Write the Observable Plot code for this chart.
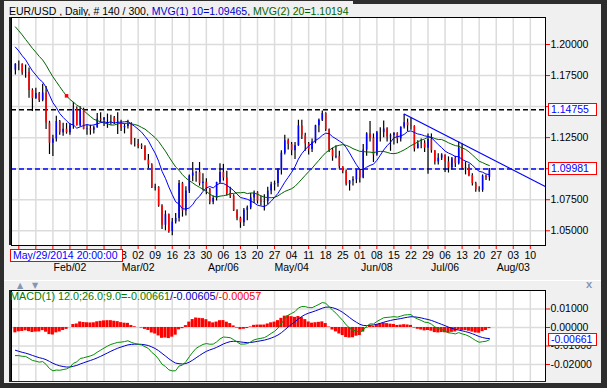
<!DOCTYPE html>
<html><head><meta charset="utf-8">
<script src="https://cdn.jsdelivr.net/npm/d3@7"></script>
<script src="https://cdn.jsdelivr.net/npm/@observablehq/plot@0.6"></script>
<style>
html,body{margin:0;padding:0;}
body{width:607px;height:388px;background:#f0f0f0;position:relative;overflow:hidden;font-family:"Liberation Sans",Arial,sans-serif;font-size:10.5px;}
.a{position:absolute;}
.box{position:absolute;background:#fff;border:1px solid #f00;color:#0000ff;box-sizing:border-box;line-height:11px;white-space:nowrap;padding-left:2px;}
.tri{position:absolute;color:#8795b5;font-family:"DejaVu Sans";font-size:8px;line-height:8px;}
</style></head><body>
<div id="main" class="a" style="left:0;top:0"></div>
<div id="macd" class="a" style="left:0;top:280px"></div>
<div id="over"></div>
<script>
// ---- data (EUR/USD daily, first bar 2015-01-09) ----
const firstDay = "2015-01-09";
const open = [1.1793,1.1840,1.1838,1.1772,1.1775,1.1630,1.1564,1.1606,1.1550,1.1610,1.1367,1.1205,1.1240,1.1380,1.1290,1.1318,1.1290,1.1345,1.1480,1.1345,1.1475,1.1315,1.1320,1.1310,1.1330,1.1400,1.1390,1.1410,1.1410,1.1410,1.1375,1.1380,1.1330,1.1340,1.1360,1.1195,1.1195,1.1185,1.1175,1.1070,1.1030,1.0845,1.0850,1.0700,1.0545,1.0630,1.0495,1.0570,1.0600,1.0880,1.0660,1.0820,1.0940,1.0965,1.0970,1.0880,1.0890,1.0835,1.0730,1.0760,1.0890,1.0970,1.0925,1.0800,1.0780,1.0660,1.0600,1.0565,1.0665,1.0685,1.0765,1.0805,1.0740,1.0730,1.0735,1.0820,1.0870,1.0880,1.0985,1.1125,1.1225,1.1195,1.1145,1.1185,1.1345,1.1265,1.1200,1.1155,1.1215,1.1345,1.1390,1.1445,1.1315,1.1150,1.1095,1.1100,1.1015,1.0980,1.0875,1.0900,1.0910,1.0985,1.0925,1.1150,1.1280,1.1245,1.1110,1.1290,1.1290,1.1320,1.1255,1.1265,1.1285,1.1240,1.1335,1.1370,1.1345,1.1340,1.1160,1.1200,1.1205,1.1165,1.1235,1.1145,1.1055,1.1085,1.1110,1.1055,1.1005,1.1080,1.1040,1.1165,1.1005,1.1010,1.0945,1.0880,1.0830,1.0825,1.0940,1.0930];
const high = [1.1845,1.1867,1.1846,1.1835,1.1810,1.1643,1.1647,1.1614,1.1679,1.1662,1.1382,1.1270,1.1423,1.1388,1.1366,1.1365,1.1364,1.1534,1.1497,1.1498,1.1487,1.1348,1.1350,1.1344,1.1444,1.1450,1.1410,1.1440,1.1430,1.1420,1.1450,1.1390,1.1360,1.1390,1.1370,1.1243,1.1235,1.1200,1.1185,1.1114,1.1040,1.0875,1.0855,1.0710,1.0660,1.0635,1.0600,1.0640,1.0905,1.0890,1.0855,1.0950,1.1050,1.0980,1.1050,1.0960,1.0920,1.0840,1.0780,1.0890,1.1040,1.1035,1.0980,1.0850,1.0790,1.0670,1.0610,1.0680,1.0700,1.0800,1.0820,1.0815,1.0780,1.0790,1.0850,1.0890,1.0900,1.1000,1.1145,1.1270,1.1240,1.1210,1.1210,1.1390,1.1390,1.1285,1.1210,1.1240,1.1350,1.1400,1.1465,1.1450,1.1320,1.1165,1.1185,1.1140,1.1015,1.0990,1.0905,1.0935,1.0990,1.0990,1.1195,1.1290,1.1380,1.1280,1.1300,1.1330,1.1385,1.1330,1.1280,1.1290,1.1290,1.1335,1.1436,1.1400,1.1410,1.1345,1.1225,1.1240,1.1225,1.1280,1.1280,1.1145,1.1120,1.1120,1.1110,1.1095,1.1090,1.1100,1.1215,1.1200,1.1055,1.1035,1.0960,1.0890,1.0855,1.0950,1.0950,1.1000];
const low = [1.1754,1.1789,1.1753,1.1728,1.1567,1.1460,1.1559,1.1532,1.1540,1.1316,1.1114,1.1098,1.1215,1.1270,1.1262,1.1278,1.1269,1.1318,1.1344,1.1336,1.1313,1.1270,1.1270,1.1280,1.1325,1.1370,1.1340,1.1325,1.1350,1.1355,1.1275,1.1300,1.1280,1.1320,1.1190,1.1175,1.1160,1.1155,1.1063,1.1000,1.0840,1.0820,1.0690,1.0510,1.0500,1.0480,1.0460,1.0555,1.0570,1.0610,1.0620,1.0800,1.0895,1.0890,1.0860,1.0820,1.0790,1.0710,1.0710,1.0740,1.0880,1.0900,1.0780,1.0760,1.0655,1.0580,1.0520,1.0535,1.0580,1.0670,1.0720,1.0715,1.0700,1.0660,1.0710,1.0790,1.0820,1.0850,1.0950,1.1110,1.1150,1.1105,1.1075,1.1180,1.1235,1.1140,1.1110,1.1130,1.1200,1.1290,1.1380,1.1300,1.1130,1.1060,1.1080,1.1000,1.0960,1.0860,1.0820,1.0860,1.0880,1.0885,1.0920,1.1100,1.1215,1.1050,1.1100,1.1215,1.1250,1.1215,1.1140,1.1190,1.1200,1.1215,1.1320,1.1300,1.1310,1.1135,1.1160,1.1160,1.1130,1.0955,1.1125,1.1030,1.1030,1.1065,1.0970,1.0965,1.0990,1.1010,1.1030,1.0990,1.0950,1.0935,1.0860,1.0810,1.0810,1.0810,1.0905,1.0900];
const close = [1.1841,1.1838,1.1772,1.1775,1.1630,1.1564,1.1606,1.1550,1.1610,1.1367,1.1205,1.1240,1.1380,1.1290,1.1318,1.1290,1.1345,1.1480,1.1345,1.1475,1.1315,1.1320,1.1310,1.1330,1.1400,1.1390,1.1410,1.1410,1.1410,1.1375,1.1380,1.1330,1.1340,1.1360,1.1195,1.1195,1.1185,1.1175,1.1070,1.1030,1.0845,1.0850,1.0700,1.0545,1.0630,1.0495,1.0570,1.0600,1.0880,1.0660,1.0820,1.0940,1.0965,1.0970,1.0880,1.0890,1.0835,1.0730,1.0760,1.0890,1.0970,1.0925,1.0800,1.0780,1.0660,1.0600,1.0565,1.0665,1.0685,1.0765,1.0805,1.0740,1.0730,1.0735,1.0820,1.0870,1.0880,1.0985,1.1125,1.1225,1.1195,1.1145,1.1185,1.1345,1.1265,1.1200,1.1155,1.1215,1.1345,1.1390,1.1445,1.1315,1.1150,1.1095,1.1100,1.1015,1.0980,1.0875,1.0900,1.0910,1.0985,1.0925,1.1150,1.1280,1.1245,1.1110,1.1290,1.1290,1.1320,1.1255,1.1265,1.1285,1.1240,1.1335,1.1370,1.1345,1.1340,1.1160,1.1200,1.1205,1.1165,1.1235,1.1145,1.1055,1.1085,1.1110,1.1055,1.1005,1.1080,1.1040,1.1165,1.1005,1.1010,1.0945,1.0880,1.0830,1.0825,1.0940,1.0930,1.0998];
// closes of the 19 sessions before the first shown bar (for the moving averages)
const preCloses = [1.2465,1.2440,1.2505,1.2335,1.2290,1.2230,1.2225,1.2180,1.2195,1.2180,1.2150,1.2155,1.2100,1.2090,1.2000,1.1935,1.1890,1.1840,1.1790];
// MACD(12,26,9) state at the session before the first shown bar
const macdSeed = {ema12: 1.2005, ema26: 1.2155, signal: -0.01158};

const weekTicks = ["2015-01-12","2015-01-19","2015-01-26","2015-02-02","2015-02-09","2015-02-16","2015-02-23","2015-03-02","2015-03-09","2015-03-16","2015-03-23","2015-03-30","2015-04-06","2015-04-13","2015-04-20","2015-04-27","2015-05-04","2015-05-11","2015-05-18","2015-05-25","2015-06-01","2015-06-08","2015-06-15","2015-06-22","2015-06-29","2015-07-06","2015-07-13","2015-07-20","2015-07-27","2015-08-03","2015-08-10"];
// day labels up to this date sit behind the cursor-date box and are not visible
const hiddenUntil = "2015-02-16";
const monthTicks = ["2015-02-02","2015-03-02","2015-04-06","2015-05-04","2015-06-08","2015-07-06","2015-08-03"];
const monthLabels = ["Feb/02","Mar/02","Apr/06","May/04","Jun/08","Jul/06","Aug/03"];
const priceLevels = [1.05,1.075,1.10,1.125,1.15,1.175,1.20];
const hiddenPriceLabels = [1.15]; // covered by the 1.14755 value box
const macdLevels = [0.01,0,-0.01,-0.02];
const blackLevel = 1.14755, blueLevel = 1.09981;
const trendDates = ["2015-06-18","2015-08-17"], trendValues = [1.1440,1.0848];
const markerDate = "2015-01-30";
const titleParts = [["EUR/USD , Daily, # 140 / 300, ","#000"],["MVG(1) 10=1.09465","#0000cc"],[", ","#000"],["MVG(2) 20=1.10194","#006400"]];
const macdParts = [["MACD(1) 12.0;26.0;9.0=-0.00661","#008000"],["/-0.00605","#0000cc"],["/-0.00057","#ff0000"]];
const macdLast = -0.00661;
const cursorLabel = "May/29/2014 20:00:00";

// ---- helpers ----
function idx(s){ // trading-day index from firstDay
  const a = new Date(firstDay+"T00:00:00Z"), b = new Date(s+"T00:00:00Z");
  let n = 0;
  for (let t = a.getTime(); t < b.getTime(); t += 864e5){ const w = new Date(t).getUTCDay(); if (w!==0 && w!==6) n++; }
  return n;
}
const P = preCloses.length;
const allCloses = preCloses.concat(close);
let e12 = macdSeed.ema12, e26 = macdSeed.ema26, sig = macdSeed.signal;
const rows = close.map((c,k) => {
  const ma10 = d3.mean(allCloses.slice(P+k-9, P+k+1));
  const ma20 = d3.mean(allCloses.slice(P+k-19, P+k+1));
  e12 += (2/13)*(c-e12); e26 += (2/27)*(c-e26);
  const m = e12 - e26; sig += 0.2*(m - sig);
  return {i:k, open:open[k], high:high[k], low:low[k], close:c, ma10, ma20, macd:m, signal:sig, hist:m-sig};
});
const weekIdx = weekTicks.map(idx);
const weekLabel = new Map(weekTicks.map((d,k)=>[weekIdx[k], d > hiddenUntil ? d.slice(8) : ""]));
const monthIdx = monthTicks.map(idx);
const trend = trendDates.map((d,k)=>({i:idx(d), v:trendValues[k]}));
const marker = rows[idx(markerDate)];

const xDomain = [-1.14, 155.45];
const yDomain = [1.03816, 1.22174];
const macdDomain = [-0.02919, 0.0200];
const font = "Liberation Sans, Arial, sans-serif";
const grid = "#dcdcdc";

const main = Plot.plot({
  width: 607, height: 280, marginTop: 17, marginBottom: 35, marginLeft: 11, marginRight: 62,
  style: {background: "transparent", fontFamily: font, fontSize: "10.5px", color: "#000"},
  x: {type: "linear", domain: xDomain},
  y: {type: "linear", domain: yDomain},
  marks: [
    Plot.frame({fill: "#fff", stroke: null}),
    Plot.ruleX(weekIdx, {stroke: grid, strokeWidth: 1.5}),
    Plot.ruleY(priceLevels, {stroke: grid, strokeWidth: 1.5}),
    Plot.ruleY([blackLevel], {stroke: "#000", strokeWidth: 1.5, strokeDasharray: "5,3"}),
    Plot.ruleY([blueLevel], {stroke: "#0000ff", strokeWidth: 1.5, strokeDasharray: "5,3"}),
    Plot.ruleX(rows, {x: "i", y1: "low", y2: "high", stroke: "#000", strokeWidth: 1.2}),
    Plot.ruleX(rows, {filter: d => d.close >= d.open, x: "i", y1: "open", y2: "close", stroke: "#0000ff", strokeWidth: 1.6}),
    Plot.ruleX(rows, {filter: d => d.close < d.open, x: "i", y1: "open", y2: "close", stroke: "#ff0000", strokeWidth: 1.6}),
    Plot.line(rows, {x: "i", y: "ma20", stroke: "#006400", strokeWidth: 1}),
    Plot.line(rows, {x: "i", y: "ma10", stroke: "#0000ff", strokeWidth: 1}),
    Plot.line(trend, {x: "i", y: "v", stroke: "#0000ff", strokeWidth: 1.2, clip: true}),
    Plot.dot([marker], {x: "i", y: "ma20", symbol: "square", r: 2, fill: "#ff0000", stroke: null}),
    Plot.axisX(weekIdx, {tickFormat: i => weekLabel.get(i), tickSize: 4, tickPadding: 2, stroke: "#ff0000", fill: "#000", fontSize: 10.5, label: null}),
    Plot.text(monthIdx, {x: d => d, text: (d,k) => monthLabels[k], frameAnchor: "bottom", dy: 25.5, fontSize: 10.5, fill: "#000"}),
    Plot.axisY(priceLevels, {anchor: "right", tickFormat: d => hiddenPriceLabels.includes(d) ? "" : d.toFixed(5), tickSize: 4, tickPadding: 1, stroke: "#ff0000", fill: "#000", fontSize: 10.5, label: null}),
    Plot.frame({stroke: "#000"})
  ]
});
document.getElementById("main").appendChild(main);

const lower = Plot.plot({
  width: 607, height: 108, marginTop: 10, marginBottom: 7, marginLeft: 11, marginRight: 62,
  style: {background: "transparent", fontFamily: font, fontSize: "10.5px", color: "#000"},
  x: {type: "linear", domain: xDomain, axis: null},
  y: {type: "linear", domain: macdDomain},
  marks: [
    Plot.frame({fill: "#fff", stroke: null}),
    Plot.ruleX(weekIdx, {stroke: grid, strokeWidth: 1.5}),
    Plot.ruleY(macdLevels, {stroke: grid, strokeWidth: 1.5}),
    Plot.rect(rows, {x1: d => d.i - 0.45, x2: d => d.i + 0.45, y1: 0, y2: "hist", fill: "#ff0000"}),
    Plot.line(rows, {x: "i", y: "signal", stroke: "#0000cc", strokeWidth: 1}),
    Plot.line(rows, {x: "i", y: "macd", stroke: "#009000", strokeWidth: 1}),
    Plot.axisY(macdLevels, {anchor: "right", tickFormat: d => d.toFixed(5), tickSize: 4, tickPadding: 1, stroke: "#ff0000", fill: "#000", fontSize: 10.5, label: null}),
    Plot.frame({stroke: "#000"})
  ]
});
document.getElementById("macd").appendChild(lower);

// ---- overlays (frame chrome, value boxes, labels) ----
const ys = main.scale("y"), my = lower.scale("y");
const over = document.getElementById("over");
function add(html){ over.insertAdjacentHTML("beforeend", html); }
const dark = "#2d2d2d";
add(`<div class="a" style="left:0;top:0;width:607px;height:4px;background:${dark}"></div>`);
add(`<div class="a" style="left:0;top:0;width:4px;height:388px;background:${dark}"></div>`);
add(`<div class="a" style="left:601px;top:0;width:6px;height:388px;background:${dark}"></div>`);
add(`<div class="a" style="left:0;top:383px;width:607px;height:5px;background:${dark}"></div>`);
add(`<div class="a" style="left:9px;top:17px;width:2px;height:228px;background:#222"></div>`);
add(`<div class="a" style="left:9px;top:290px;width:2px;height:91px;background:#222"></div>`);
add(`<div class="a" style="left:9px;top:381px;width:537px;height:1px;background:#222"></div>`);
add(`<div class="a" style="left:4px;top:280px;width:597px;height:1px;background:#fff"></div>`);
add(`<div class="a" style="left:4px;top:1px;height:15px;padding-left:5px;padding-right:4px;background:#f0f0f0;line-height:20px;white-space:nowrap;overflow:hidden">${titleParts.map(([t,c])=>`<span style="color:${c}">${t}</span>`).join("")}</div>`);
add(`<div class="a" style="left:10px;top:290px;line-height:12px;font-size:10.8px;white-space:nowrap">${macdParts.map(([t,c])=>`<span style="color:${c}">${t}</span>`).join("")}</div>`);
add(`<div class="box" style="left:10px;top:249px;width:113px;height:13px">${cursorLabel}</div>`);
[blackLevel, blueLevel].forEach(v => {
  add(`<div class="box" style="left:548px;top:${(ys.apply(v)-6.5).toFixed(1)}px;width:49px;height:13px">${v.toFixed(5)}</div>`);
});
add(`<div class="box" style="left:548px;top:${(280+my.apply(macdLast)-6.5).toFixed(1)}px;width:49px;height:13px">${macdLast.toFixed(5)}</div>`);
add(`<div class="tri" style="left:17px;top:282px">▲</div>`);
add(`<div class="tri" style="left:32px;top:282px">▼</div>`);
add(`<div class="a" style="left:586px;top:279px;color:#8795b5;font-weight:bold;font-size:11px;line-height:10px">x</div>`);
</script>
</body></html>
